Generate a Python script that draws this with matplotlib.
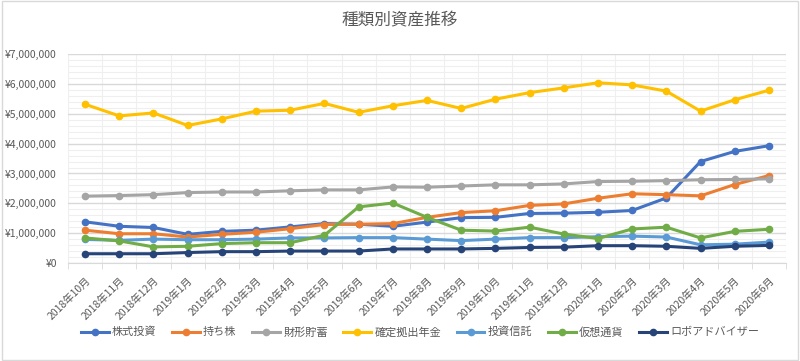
import matplotlib
matplotlib.use("Agg")
import matplotlib.pyplot as plt
from matplotlib.ticker import FuncFormatter, MultipleLocator
from matplotlib.patches import Rectangle

plt.rcParams['font.family'] = ['Noto Sans CJK JP', 'DejaVu Sans']

months = ["2018年10月", "2018年11月", "2018年12月", "2019年1月", "2019年2月", "2019年3月",
          "2019年4月", "2019年5月", "2019年6月", "2019年7月", "2019年8月", "2019年9月",
          "2019年10月", "2019年11月", "2019年12月", "2020年1月", "2020年2月", "2020年3月",
          "2020年4月", "2020年5月", "2020年6月"]

stocks = [1.38, 1.23, 1.19, 0.96, 1.06, 1.10, 1.21, 1.32, 1.30, 1.23, 1.37, 1.52, 1.53, 1.66, 1.67, 1.70, 1.76, 2.18, 3.40, 3.74, 3.93]
esop = [1.10, 0.98, 0.98, 0.87, 0.96, 1.03, 1.15, 1.29, 1.30, 1.32, 1.53, 1.69, 1.75, 1.93, 1.98, 2.17, 2.32, 2.29, 2.25, 2.63, 2.93]
savings = [2.24, 2.26, 2.29, 2.36, 2.38, 2.38, 2.42, 2.45, 2.45, 2.55, 2.54, 2.58, 2.62, 2.62, 2.65, 2.73, 2.74, 2.76, 2.79, 2.80, 2.82]
dc_pension = [5.32, 4.93, 5.03, 4.61, 4.83, 5.09, 5.12, 5.35, 5.05, 5.27, 5.45, 5.18, 5.49, 5.71, 5.87, 6.04, 5.97, 5.76, 5.09, 5.47, 5.79]
funds = [0.79, 0.76, 0.80, 0.78, 0.78, 0.80, 0.84, 0.84, 0.85, 0.85, 0.80, 0.75, 0.80, 0.85, 0.85, 0.88, 0.90, 0.87, 0.61, 0.63, 0.70]
crypto = [0.84, 0.74, 0.54, 0.56, 0.65, 0.68, 0.68, 0.93, 1.88, 2.01, 1.53, 1.10, 1.07, 1.20, 0.97, 0.82, 1.14, 1.20, 0.84, 1.06, 1.13]
robo = [0.31, 0.31, 0.31, 0.35, 0.38, 0.38, 0.40, 0.40, 0.40, 0.47, 0.47, 0.47, 0.49, 0.52, 0.53, 0.58, 0.58, 0.56, 0.49, 0.56, 0.59]

series_names = ["株式投資", "持ち株", "財形貯蓄", "確定拠出年金", "投資信託", "仮想通貨", "ロボアドバイザー"]
series_values = [stocks, esop, savings, dc_pension, funds, crypto, robo]
colors = ["#4472C4", "#ED7D31", "#A5A5A5", "#FFC000", "#5B9BD5", "#70AD47", "#264478"]

fig = plt.figure(figsize=(8.0, 3.61), dpi=100)
ax = fig.add_axes([0.085, 0.2715, 0.8975, 0.5785])

x = list(range(len(months)))
for name, vals, c in zip(series_names, series_values, colors):
    ax.plot(x, [v * 1e6 for v in vals], color=c, lw=2.2, marker='o', ms=4.5,
            label=name, zorder=3)

ax.set_xlim(-0.5, len(months) - 0.5)
ax.set_ylim(0, 7e6)
ax.yaxis.set_major_locator(MultipleLocator(1e6))
ax.yaxis.set_minor_locator(MultipleLocator(2e5))
ax.yaxis.set_major_formatter(FuncFormatter(lambda v, p: "¥{:,.0f}".format(v)))
ax.grid(which='major', axis='y', color='#D9D9D9', lw=1.0, zorder=0)
ax.grid(which='minor', axis='y', color='#EFEFEF', lw=0.8, zorder=0)
ax.set_xticks(x)
ax.set_xticklabels(months, rotation=45, ha='right', va='top', rotation_mode='anchor',
                   fontsize=7.5, color='#595959')
ax.set_xticks([i - 0.5 for i in range(len(months) + 1)], minor=True)
ax.grid(which='minor', axis='x', color='#EFEFEF', lw=0.8, zorder=0)
ax.tick_params(axis='x', which='major', length=0, pad=9)
ax.tick_params(axis='x', which='minor', length=4, color='#D9D9D9')
ax.tick_params(axis='y', which='both', length=0, labelsize=7.5, labelcolor='#595959', pad=8)
for s in ['top', 'right', 'left']:
    ax.spines[s].set_visible(False)
ax.spines['bottom'].set_color('#D9D9D9')

fig.suptitle("種類別資産推移", x=0.5, y=0.965, fontsize=12, color='#595959')

leg = fig.legend(loc='center', bbox_to_anchor=(0.525, 0.08), ncol=7, frameon=False,
                 fontsize=8, handlelength=2.5, columnspacing=1.4, handletextpad=0.3)
for t in leg.get_texts():
    t.set_color('#595959')

fig.patches.append(Rectangle((0.002, 0.004), 0.996, 0.992, transform=fig.transFigure,
                             fill=False, edgecolor='#D9D9D9', lw=1.0))

fig.savefig("out.png", dpi=100)
